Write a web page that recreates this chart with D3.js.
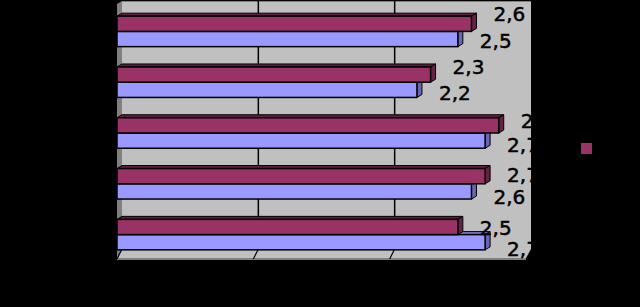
<!DOCTYPE html>
<html>
<head>
<meta charset="utf-8">
<script src="https://cdn.jsdelivr.net/npm/d3@7"></script>
<style>
  body { margin: 0; background: #000; }
  svg { display: block; }
</style>
</head>
<body>
<div id="chart"></div>
<script>
// categories are top to bottom; their names are black on black in the picture
const categories = ["1", "2", "3", "4", "5"]
const seriesNames = ["A", "B"]
const seriesA = [2.6, 2.3, 2.8, 2.7, 2.5]   // maroon, upper bar of each pair
const seriesB = [2.5, 2.2, 2.7, 2.6, 2.7]   // lavender, lower bar
const xTicks = [0, 1, 2, 3]

const W = 640, H = 307
const DX = 5, DY = -3   // 3d depth offset

const colors = {
    A: { front: "#993366", top: "#5e1f3f", side: "#662244" },
    B: { front: "#9999ff", top: "#7777cc", side: "#6666b3" },
}

const fmt = d3.formatLocale({ decimal: ",", thousands: ".", grouping: [3], currency: ["", ""] }).format(".1f")

const svg = d3.select("#chart").append("svg")
    .attr("width", W)
    .attr("height", H)

svg.append("rect").attr("width", W).attr("height", H).attr("fill", "#000")

const x = d3.scaleLinear().domain([0, 3]).range([117, 526])
const y = d3.scaleBand().domain(categories).range([6, 260]).paddingInner(0.4).paddingOuter(0.2)
const ySub = d3.scaleBand().domain(seriesNames).range([0, y.bandwidth()])

const wallTop = 1, wallBottom = 249

// back wall
svg.append("rect")
    .attr("x", x(0) + DX).attr("y", wallTop)
    .attr("width", x(3) - x(0)).attr("height", wallBottom - wallTop)
    .attr("fill", "#c0c0c0")
svg.append("line")
    .attr("x1", x(0) + DX).attr("x2", x(3) + DX)
    .attr("y1", wallTop + 0.5).attr("y2", wallTop + 0.5)
    .attr("stroke", "#808080")

// left wall
svg.append("path")
    .attr("d", d3.line()([[x(0), wallTop + 3], [x(0) + DX, wallTop], [x(0) + DX, wallBottom], [x(0), wallBottom + 9]]))
    .attr("fill", "#808080")

// gridlines on the wall
svg.selectAll(".grid")
    .data(xTicks.filter(t => t > 0 && t < 3))
    .enter().append("line")
    .attr("x1", d => x(d) + DX).attr("x2", d => x(d) + DX)
    .attr("y1", wallTop).attr("y2", wallBottom)
    .attr("stroke", "#000").attr("stroke-width", 1.5)

// floor
svg.append("path")
    .attr("d", d3.line()([[x(0) + DX, wallBottom], [x(3) + DX, wallBottom], [x(3), wallBottom + 9], [x(0), wallBottom + 9]]))
    .attr("fill", "#c0c0c0")
svg.append("rect")
    .attr("x", x(0)).attr("y", wallBottom + 9)
    .attr("width", x(3) - x(0)).attr("height", 2)
    .attr("fill", "#808080")
svg.selectAll(".tick3d")
    .data(xTicks.filter(t => t < 3))
    .enter().append("line")
    .attr("x1", d => x(d) + DX).attr("x2", d => x(d))
    .attr("y1", wallBottom).attr("y2", wallBottom + 10)
    .attr("stroke", "#000").attr("stroke-width", 1.2)

// bars
const rows = categories.map((c, i) => ({ cat: c, A: seriesA[i], B: seriesB[i] }))

function drawBar(g, key, v, y0, h) {
    const x0 = x(0), x1 = x(v)
    const c = colors[key]
    // top face
    g.append("path")
        .attr("d", d3.line()([[x0, y0], [x0 + DX, y0 + DY], [x1 + DX, y0 + DY], [x1, y0]]) + "Z")
        .attr("fill", c.top).attr("stroke", "#000").attr("stroke-width", 1)
    // side face
    g.append("path")
        .attr("d", d3.line()([[x1, y0], [x1 + DX, y0 + DY], [x1 + DX, y0 + h + DY], [x1, y0 + h]]) + "Z")
        .attr("fill", c.side).attr("stroke", "#000").attr("stroke-width", 1)
    // front face
    g.append("rect")
        .attr("x", x0).attr("y", y0)
        .attr("width", x1 - x0).attr("height", h)
        .attr("fill", c.front).attr("stroke", "#000").attr("stroke-width", 1.5)
}

const bars = svg.append("g")
rows.forEach(r => {
    // lower bar first so the upper one covers its top face
    ;["B", "A"].forEach(key => {
        drawBar(bars, key, r[key], y(r.cat) + ySub(key), ySub.bandwidth())
    })
})

// value labels, clipped at the edge of the wall
svg.append("clipPath").attr("id", "plotClip")
    .append("rect").attr("x", 0).attr("y", 0).attr("width", x(3) + DX + 1).attr("height", H)

// excel drifts the labels downward as it goes down the chart
const labelShift = { A: [-3, 2.8], B: [9, 1.2] }
const labels = svg.append("g").attr("clip-path", "url(#plotClip)")
rows.forEach((r, i) => {
    seriesNames.forEach(key => {
        labels.append("text")
            .attr("x", x(r[key]) + 22)
            .attr("y", y(r.cat) + ySub(key) + ySub.bandwidth() / 2 + labelShift[key][0] + labelShift[key][1] * i)
            .attr("font-family", "DejaVu Sans, Verdana, sans-serif")
            .attr("font-size", 20)
            .attr("fill", "#000")
            .attr("stroke", "#000")
            .attr("stroke-width", 0.5)
            .text(fmt(r[key]))
    })
})

// legend: only the maroon marker shows; its text is black on black
svg.append("rect")
    .attr("x", 581).attr("y", 143)
    .attr("width", 11).attr("height", 11)
    .attr("fill", colors.A.front)
</script>
</body>
</html>
